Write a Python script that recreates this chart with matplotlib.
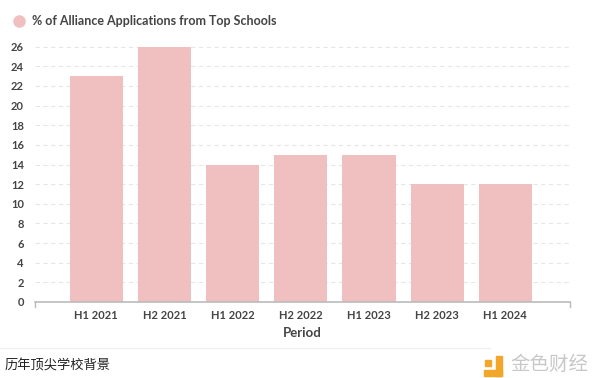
import matplotlib
matplotlib.use("Agg")
import matplotlib.pyplot as plt
from matplotlib.patches import Rectangle

periods = ["H1 2021", "H2 2021", "H1 2022", "H2 2022", "H1 2023", "H2 2023", "H1 2024"]
pct_top_schools = [23, 26, 14, 15, 15, 12, 12]
yticks = list(range(0, 27, 2))

plt.rcParams['font.family'] = ['Lato', 'Noto Sans CJK SC', 'DejaVu Sans']

fig = plt.figure(figsize=(6.0, 3.78), dpi=100)
W, H = 600, 378
ax = fig.add_axes([35 / W, 1 - 302 / H, (570 - 35) / W, (302 - 32) / H])

x = range(len(periods))
ax.bar(x, pct_top_schools, width=0.78, color="#f0bfc0", zorder=2)

ax.set_xlim(-0.9, 6.95)
ax.set_ylim(0, 27.5)
ax.set_yticks(yticks)
ax.set_xticks(list(x))
ax.set_xticklabels(periods, fontsize=8, fontweight="bold", color="#444444")
ax.tick_params(axis="y", labelsize=8, length=0, pad=8, labelcolor="#444444")
ax.tick_params(axis="x", length=0, pad=6)
for lbl in ax.get_yticklabels():
    lbl.set_fontweight("bold")
ax.grid(axis="y", linestyle=(0, (4, 3)), color="#e6e6e6", linewidth=0.8, zorder=0)
for s in ["top", "right", "left"]:
    ax.spines[s].set_visible(False)
ax.spines["bottom"].set_color("#bbbbbb")
ax.spines["bottom"].set_linewidth(1.2)
# little end ticks on the x axis
ax.plot([-0.9, -0.9], [0, -0.5], color="#bbbbbb", lw=1, clip_on=False)
ax.plot([6.95, 6.95], [0, -0.5], color="#bbbbbb", lw=1, clip_on=False)
ax.set_xlabel("Period", fontsize=9.5, fontweight="bold", color="#444444", labelpad=4)

# legend
fig.add_artist(plt.Line2D([19 / W], [1 - 21 / H], marker="o", markersize=8,
                          color="#f0bfc0", transform=fig.transFigure))
fig.text(32 / W, 1 - 21 / H, "% of Alliance Applications from Top Schools",
         fontsize=9, fontweight="bold", color="#444444", va="center")

# separator + caption
fig.add_artist(plt.Line2D([0, 490 / W], [1 - 348 / H, 1 - 348 / H],
                          transform=fig.transFigure, color="#eeeeee", lw=0.8))
fig.text(5 / W, 1 - 366 / H, "历年顶尖学校背景", fontsize=9.5, color="#222222",
         va="center", family=['Noto Sans CJK SC', 'DejaVu Sans'])

# watermark logo
fig.add_artist(Rectangle((484 / W, 1 - 376 / H), 18 / W, 6 / H,
                         transform=fig.transFigure, color="#f2a72a"))
fig.add_artist(Rectangle((496 / W, 1 - 376 / H), 6 / W, 20 / H,
                         transform=fig.transFigure, color="#f2a72a"))
fig.add_artist(Rectangle((485 / W, 1 - 366 / H), 6 / W, 6 / H,
                         transform=fig.transFigure, color="#f2a72a"))
fig.text(510 / W, 1 - 364 / H, "金色财经", fontsize=14, color="#c8c8c8",
         va="center", family=['Noto Sans CJK SC', 'DejaVu Sans'])

fig.savefig("out.png", dpi=100)
